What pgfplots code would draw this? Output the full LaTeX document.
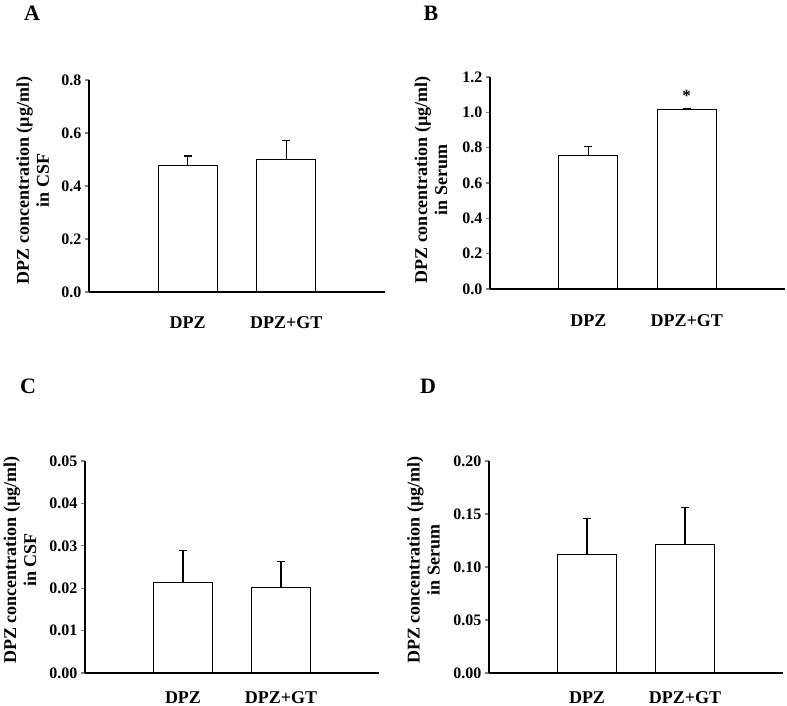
\documentclass[border=0pt]{standalone}
\usepackage{fontspec}
\setmainfont{Liberation Serif}
\usepackage{pgfplots}
\pgfplotsset{compat=1.18}

\pgfplotsset{
  panel/.style={
    scale only axis,
    anchor=south west,
    width=295pt, height=212pt,
    axis lines=left,
    axis line style={-, line width=1.2pt},
    xmin=0, xmax=3, ymin=0,
    xtick={1,2}, xticklabels={DPZ,DPZ+GT},
    major x tick style={draw=none},
    ytick align=outside,
    major tick length=4pt,
    ytick style={line width=1.2pt},
    scaled y ticks=false,
    /pgf/number format/assume math mode=true,
    /pgf/number format/fixed,
    /pgf/number format/fixed zerofill,
    tick label style={font=\bfseries\fontsize{16}{16}\selectfont},
    xticklabel style={font=\bfseries\fontsize{18}{18}\selectfont},
    every axis y label/.style={rotate=90, anchor=center, align=center,
      font=\bfseries\fontsize{18}{20}\selectfont},
    ybar, bar width=59pt,
    clip=false,
  },
  bars/.style={draw=black, fill=white, line width=1.2pt,
    error bars/.cd, y dir=plus, y explicit,
    error bar style={line width=1.2pt},
    error mark options={rotate=90, black, line width=1.2pt, mark size=4pt}},
}

\pgfplotstableread{
x y e
1 0.478 0.035
2 0.500 0.072
}\csfA
\pgfplotstableread{
x y e
1 0.755 0.050
2 1.015 0.008
}\serumB
\pgfplotstableread{
x y e
1 0.0213 0.0076
2 0.0202 0.0061
}\csfC
\pgfplotstableread{
x y e
1 0.1115 0.0345
2 0.1210 0.0355
}\serumD

\begin{document}
\begin{tikzpicture}
\useasboundingbox (0,0) rectangle (787pt,706pt);
\tikzset{panellabel/.style={font=\bfseries\fontsize{22}{22}\selectfont}}
\node[panellabel] at (32pt,693pt) {A};
\node[panellabel] at (431pt,693pt) {B};
\node[panellabel] at (28pt,320pt) {C};
\node[panellabel] at (428pt,320pt) {D};

% A
\begin{axis}[panel, at={(89pt,414pt)}, width=296pt,
  ymax=0.8, ytick={0,0.2,...,0.8},
  yticklabel style={/pgf/number format/precision=1},
  xticklabel style={yshift=-17pt},
  ylabel={DPZ concentration (µg/ml)\\in CSF},
  ylabel style={at={(axis description cs:-0.19,0.526)}}]
\addplot[bars] table[x=x, y=y, y error=e] {\csfA};
\end{axis}

% B
\begin{axis}[panel, at={(490pt,417pt)},
  ymax=1.2, ytick={0,0.2,...,1.2},
  yticklabel style={/pgf/number format/precision=1},
  xticklabel style={yshift=-18pt},
  ylabel={DPZ concentration (µg/ml)\\in Serum},
  ylabel style={at={(axis description cs:-0.2,0.515)}}]
\addplot[bars] table[x=x, y=y, y error=e] {\serumB};
\node[font=\bfseries\fontsize{17}{17}\selectfont] at (axis cs:2,1.095) {*};
\end{axis}

% C
\begin{axis}[panel, at={(85pt,33pt)}, width=294pt,
  ymax=0.05, ytick={0,0.01,...,0.05},
  yticklabel style={/pgf/number format/precision=2},
  xticklabel style={yshift=-11pt},
  ylabel={DPZ concentration (µg/ml)\\in CSF},
  ylabel style={at={(axis description cs:-0.221,0.533)}}]
\addplot[bars] table[x=x, y=y, y error=e] {\csfC};
\end{axis}

% D
\begin{axis}[panel, at={(489pt,33pt)}, width=294pt,
  ymax=0.2, ytick={0,0.05,...,0.2},
  yticklabel style={/pgf/number format/precision=2},
  xticklabel style={yshift=-11pt},
  ylabel={DPZ concentration (µg/ml)\\in Serum},
  ylabel style={at={(axis description cs:-0.223,0.533)}}]
\addplot[bars] table[x=x, y=y, y error=e] {\serumD};
\end{axis}
\end{tikzpicture}
\end{document}
